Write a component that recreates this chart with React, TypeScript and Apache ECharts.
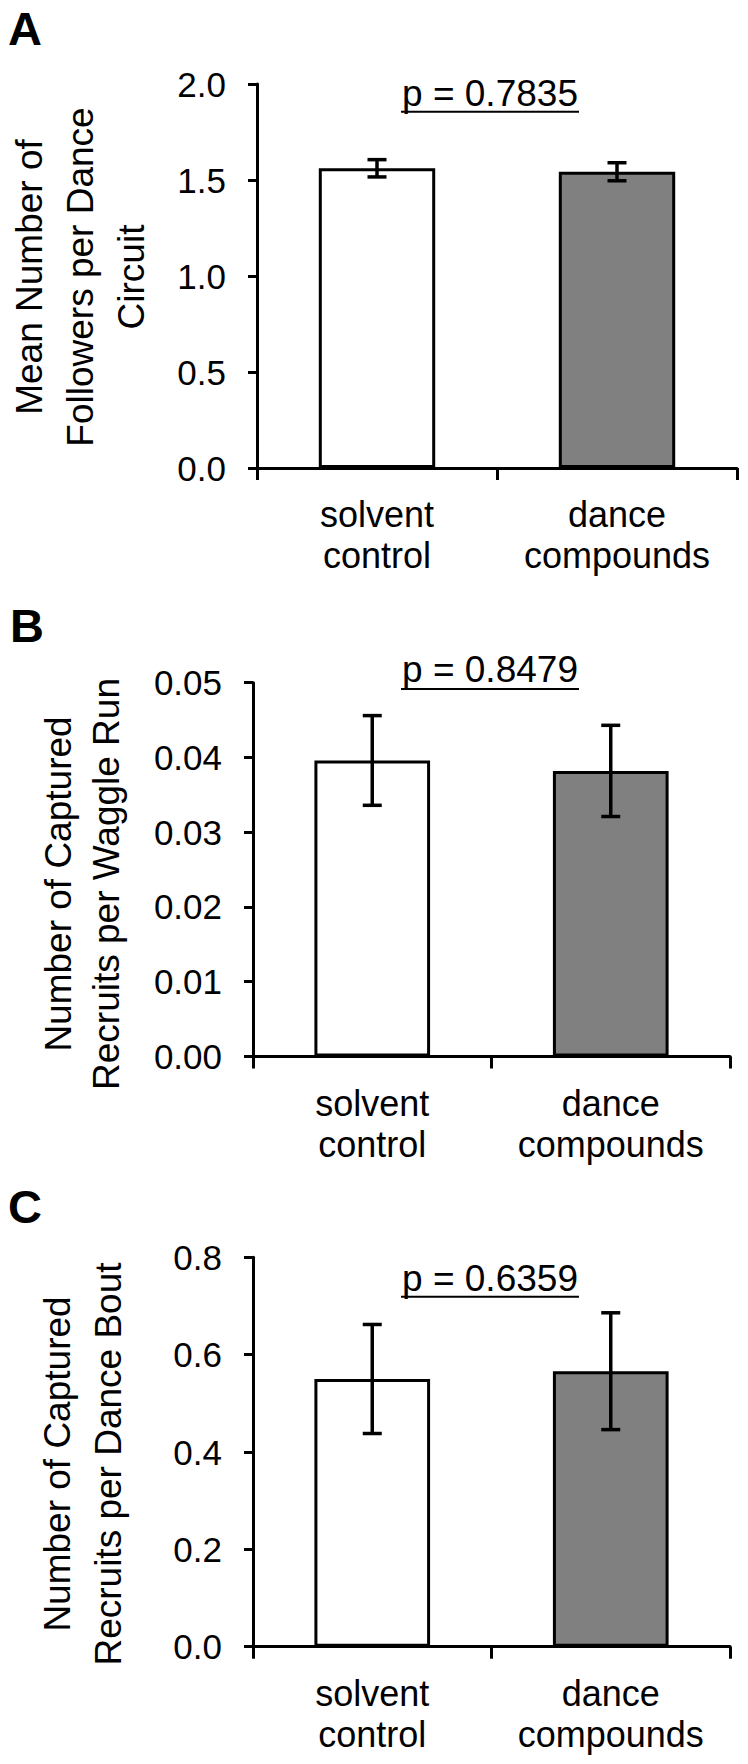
import React, { useEffect, useRef } from "react";
import * as echarts from "echarts";

const categories = ["solvent\ncontrol", "dance\ncompounds"];
const barColors = ["#ffffff", "#808080"];

const followersMean = [1.561, 1.543];
const followersErr = [0.045, 0.047];

const waggleMean = [0.0396, 0.0382];
const waggleErr = [0.006, 0.0061];

const boutMean = [0.55, 0.566];
const boutErr = [0.112, 0.12];

const pLabels = ["p = 0.7835", "p = 0.8479", "p = 0.6359"];
const panelLetters = ["A", "B", "C"];
const yTitles = [
  "Mean Number of\nFollowers per Dance\nCircuit",
  "Number of Captured\nRecruits per Waggle Run",
  "Number of Captured\nRecruits per Dance Bout",
];
const yMax = [2.0, 0.05, 0.8];
const yStep = [0.5, 0.01, 0.2];
const yDecimals = [1, 2, 1];

const FONT = "'Liberation Sans', Arial, Helvetica, sans-serif";

const grids = [
  { left: 257, top: 84, width: 480, height: 384 },
  { left: 253, top: 682.7, width: 477, height: 373.8 },
  { left: 253, top: 1257.3, width: 477, height: 389.4 },
];

const titlePos = [
  { x: 80, y: 277, lh: 51 },
  { x: 82, y: 884, lh: 48 },
  { x: 82.5, y: 1464, lh: 51 },
];
const letterPos = [
  { x: 8, y: 28.5 },
  { x: 10, y: 625.5 },
  { x: 8, y: 1206.5 },
];
const pPos = [
  { x: 490, y: 93, u: 111.7 },
  { x: 490, y: 669, u: 689 },
  { x: 490, y: 1278, u: 1296.7 },
];

function errRender(params: any, api: any) {
  const x = api.value(0);
  const y = api.value(1);
  const e = api.value(2);
  const hi = api.coord([x, y + e]);
  const lo = api.coord([x, y - e]);
  const hw = 9.5;
  const st = { stroke: "#000", lineWidth: 3.5 };
  return {
    type: "group",
    children: [
      { type: "line", shape: { x1: hi[0], y1: hi[1], x2: lo[0], y2: lo[1] }, style: st },
      { type: "line", shape: { x1: hi[0] - hw, y1: hi[1], x2: hi[0] + hw, y2: hi[1] }, style: st },
      { type: "line", shape: { x1: lo[0] - hw, y1: lo[1], x2: lo[0] + hw, y2: lo[1] }, style: st },
    ],
  };
}

export default function App() {
  const ref = useRef<HTMLDivElement>(null);
  useEffect(() => {
    if (!ref.current) return;
    const chart = echarts.init(ref.current, null, { renderer: "svg" });
    const means = [followersMean, waggleMean, boutMean];
    const errs = [followersErr, waggleErr, boutErr];

    const xAxis = grids.map((_, i) => ({
      type: "category",
      gridIndex: i,
      data: categories,
      boundaryGap: true,
      axisLine: { show: true, lineStyle: { color: "#000", width: 3 } },
      axisTick: { show: true, inside: false, length: 12, lineStyle: { color: "#000", width: 3 } },
      axisLabel: {
        color: "#000",
        fontFamily: FONT,
        fontSize: 36,
        lineHeight: 41,
        margin: 26,
        interval: 0,
      },
      splitLine: { show: false },
    }));
    const yAxis = grids.map((_, i) => ({
      type: "value",
      gridIndex: i,
      min: 0,
      max: yMax[i],
      interval: yStep[i],
      axisLine: { show: true, lineStyle: { color: "#000", width: 3 } },
      axisTick: { show: true, inside: false, length: 9, lineStyle: { color: "#000", width: 3 } },
      axisLabel: {
        color: "#000",
        fontFamily: FONT,
        fontSize: 35,
        margin: 31,
        formatter: (v: number) => v.toFixed(yDecimals[i]),
      },
      splitLine: { show: false },
    }));

    const series: any[] = [];
    grids.forEach((_, i) => {
      series.push({
        type: "bar",
        xAxisIndex: i,
        yAxisIndex: i,
        barWidth: "48.5%",
        data: means[i].map((v, j) => ({
          value: v,
          itemStyle: { color: barColors[j], borderColor: "#000", borderWidth: 3 },
        })),
        z: 2,
      });
      series.push({
        type: "custom",
        xAxisIndex: i,
        yAxisIndex: i,
        renderItem: errRender,
        encode: { x: 0, y: 1 },
        data: means[i].map((v, j) => [j, v, errs[i][j]]),
        z: 5,
      });
    });

    const graphic: any[] = [];
    grids.forEach((_, i) => {
      graphic.push({
        type: "text",
        x: letterPos[i].x,
        y: letterPos[i].y,
        style: {
          text: panelLetters[i],
          font: `bold 47px ${FONT}`,
          fill: "#000",
          textAlign: "left",
          textVerticalAlign: "middle",
        },
      });
      graphic.push({
        type: "text",
        x: titlePos[i].x,
        y: titlePos[i].y,
        rotation: Math.PI / 2,
        style: {
          text: yTitles[i],
          font: `37px ${FONT}`,
          lineHeight: titlePos[i].lh,
          fill: "#000",
          textAlign: "center",
          textVerticalAlign: "middle",
        },
      });
      graphic.push({
        type: "text",
        x: pPos[i].x,
        y: pPos[i].y,
        style: {
          text: pLabels[i],
          font: `37px ${FONT}`,
          fill: "#000",
          textAlign: "center",
          textVerticalAlign: "middle",
        },
      });
      graphic.push({
        type: "line",
        shape: { x1: 401, y1: pPos[i].u, x2: 579, y2: pPos[i].u },
        style: { stroke: "#000", lineWidth: 2 },
      });
    });

    chart.setOption({
      animation: false,
      backgroundColor: "#ffffff",
      textStyle: { fontFamily: FONT },
      grid: grids.map((g) => ({ ...g, containLabel: false })),
      xAxis,
      yAxis,
      series,
      graphic,
    });
    return () => chart.dispose();
  }, []);
  return (
    <div
      ref={ref}
      style={{ position: "absolute", left: 0, top: 0, width: 748, height: 1764 }}
    />
  );
}
